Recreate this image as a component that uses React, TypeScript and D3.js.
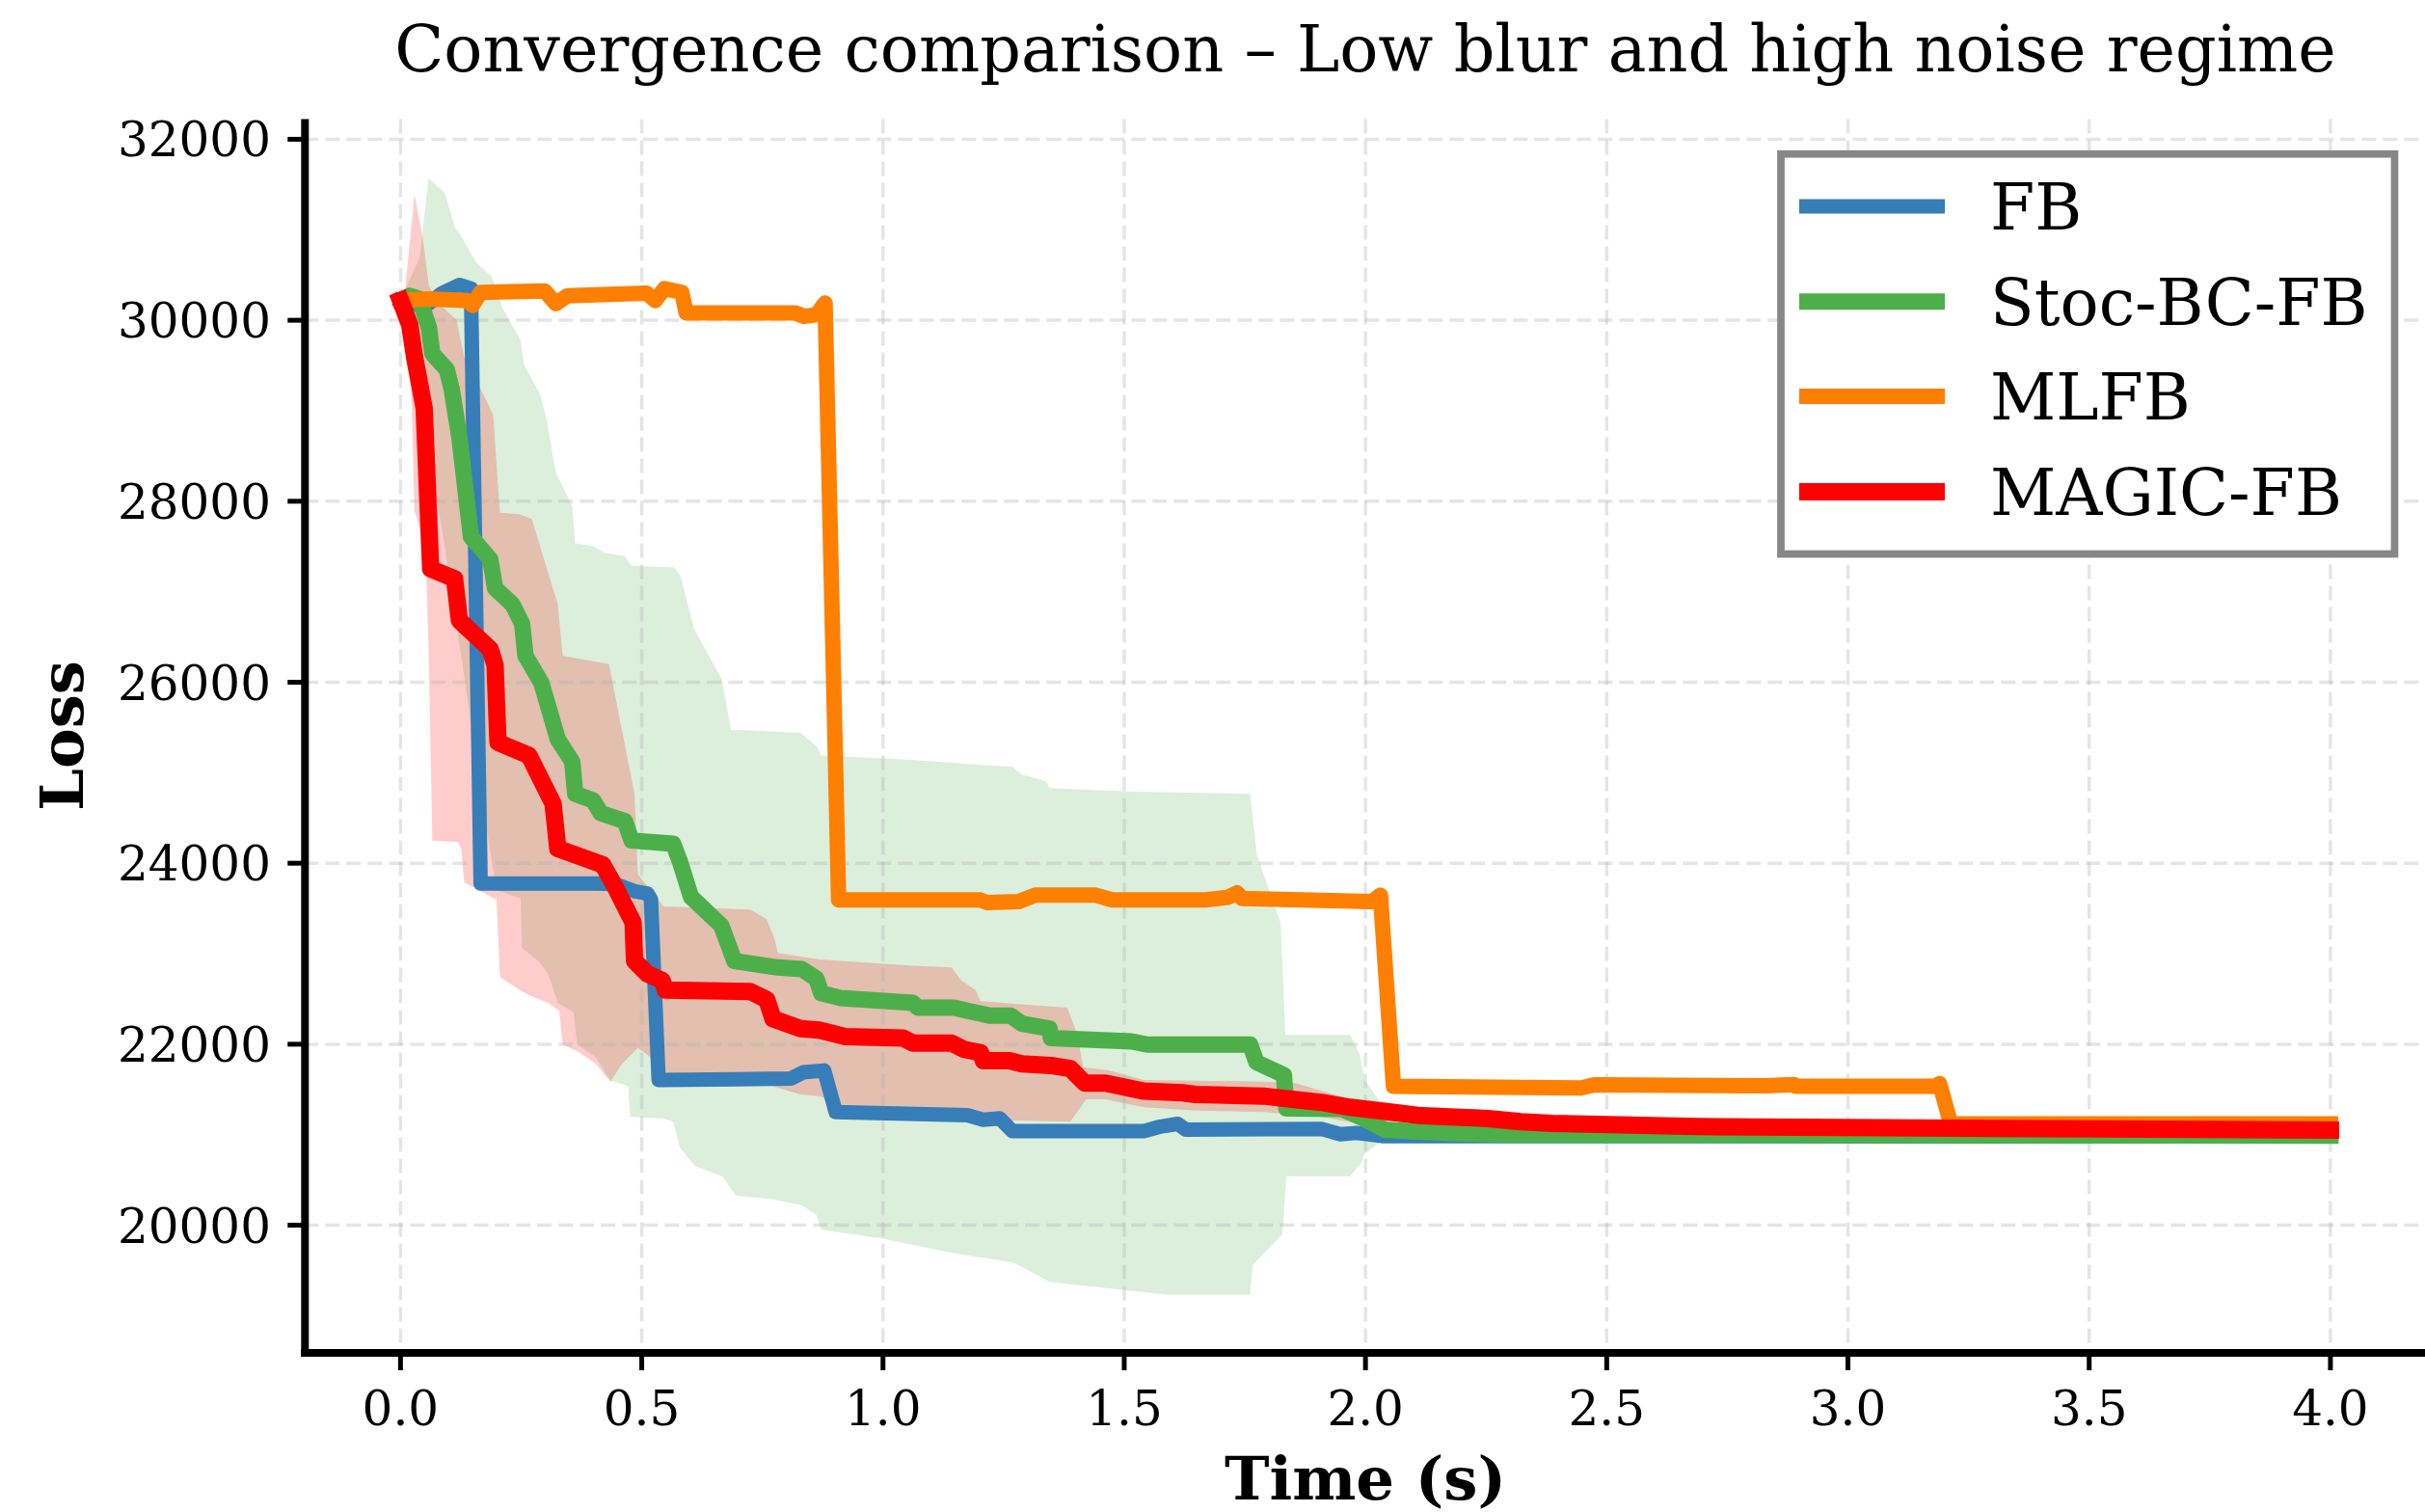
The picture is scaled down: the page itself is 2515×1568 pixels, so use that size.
import React, { useRef, useEffect } from 'react';
import * as d3 from 'd3';

type P = [number, number];

const TITLE = 'Convergence comparison – Low blur and high noise regime';
const X_LABEL = 'Time (s)';
const Y_LABEL = 'Loss';
const X_TICKS = [0, 0.5, 1, 1.5, 2, 2.5, 3, 3.5, 4];
const Y_TICKS = [20000, 22000, 24000, 26000, 28000, 30000, 32000];
const SERIES_NAMES = ['FB', 'Stoc-BC-FB', 'MLFB', 'MAGIC-FB'];
const SERIES_COLORS = ['#377eb8', '#4daf4a', '#ff7f00', '#ff0000'];
const SERIES_WIDTHS = [15, 17, 16, 18];

const fbLoss: P[] = [
  [0, 30220], [0.05, 30150], [0.086, 30300], [0.122, 30390], [0.146, 30350], [0.166, 23775],
  [0.405, 23775], [0.445, 23770], [0.485, 23690], [0.512, 23665], [0.519, 23600], [0.535, 21605],
  [0.809, 21620], [0.835, 21690], [0.878, 21710], [0.902, 21250], [1.175, 21215], [1.208, 21165],
  [1.242, 21180], [1.268, 21040], [1.541, 21040], [1.575, 21090], [1.611, 21120], [1.628, 21055],
  [1.908, 21065], [1.948, 21005], [1.981, 21020], [2.034, 20985], [4.0, 20980],
];

const stocLoss: P[] = [
  [0, 30220], [0.019, 30270], [0.039, 30236], [0.059, 29916], [0.066, 29631], [0.096, 29454],
  [0.106, 29241], [0.122, 28709], [0.146, 27607], [0.186, 27359], [0.196, 27039], [0.232, 26861],
  [0.252, 26648], [0.259, 26293], [0.292, 25992], [0.326, 25370], [0.356, 25121], [0.362, 24767],
  [0.399, 24695], [0.415, 24553], [0.465, 24464], [0.479, 24251], [0.565, 24216], [0.579, 24020],
  [0.602, 23629], [0.665, 23310], [0.692, 22919], [0.782, 22848], [0.832, 22830], [0.862, 22724],
  [0.872, 22564], [0.912, 22511], [1.062, 22457], [1.072, 22404], [1.148, 22404], [1.175, 22369],
  [1.222, 22315], [1.265, 22315], [1.288, 22226], [1.345, 22173], [1.348, 22067], [1.515, 22031],
  [1.548, 21996], [1.761, 21996], [1.774, 21800], [1.831, 21659], [1.836, 21290], [1.95, 21285],
  [1.975, 21230], [2.0, 21170], [2.041, 21054], [2.174, 21019], [2.281, 21001], [4.0, 20990],
];

const mlfbLoss: P[] = [
  [0, 30220], [0.059, 30236], [0.139, 30218], [0.149, 30164], [0.166, 30307], [0.299, 30324],
  [0.322, 30182], [0.346, 30271], [0.51, 30300], [0.528, 30217], [0.547, 30350], [0.583, 30307],
  [0.592, 30082], [0.818, 30082], [0.836, 30042], [0.862, 30062], [0.88, 30190], [0.908, 23594],
  [1.202, 23594], [1.215, 23566], [1.281, 23576], [1.315, 23647], [1.441, 23647], [1.475, 23594],
  [1.668, 23594], [1.714, 23622], [1.734, 23672], [1.744, 23611], [2.014, 23576], [2.031, 23647],
  [2.058, 21534], [2.447, 21516], [2.474, 21552], [2.829, 21540], [2.889, 21555], [2.892, 21535],
  [3.18, 21534], [3.19, 21565], [3.213, 21120], [4.0, 21120],
];

const magicLoss: P[] = [
  [0, 30220], [0.019, 29951], [0.029, 29596], [0.049, 29028], [0.0625, 27252], [0.112, 27145],
  [0.122, 26684], [0.186, 26364], [0.196, 26187], [0.202, 25334], [0.266, 25192], [0.316, 24660],
  [0.326, 24162], [0.419, 23984], [0.445, 23736], [0.482, 23345], [0.485, 22919], [0.512, 22777],
  [0.542, 22706], [0.549, 22599], [0.725, 22582], [0.759, 22493], [0.772, 22280], [0.829, 22173],
  [0.868, 22156], [0.922, 22085], [1.042, 22067], [1.062, 22013], [1.142, 22013], [1.168, 21943],
  [1.202, 21907], [1.208, 21818], [1.262, 21818], [1.288, 21783], [1.348, 21765], [1.388, 21730],
  [1.418, 21570], [1.461, 21570], [1.541, 21481], [1.621, 21463], [1.648, 21445], [1.788, 21427],
  [1.848, 21392], [1.908, 21357], [1.968, 21303], [2.081, 21232], [2.108, 21214], [2.254, 21179],
  [2.321, 21143], [2.387, 21125], [2.687, 21090], [3.3, 21070], [4.0, 21050],
];

const stocUpper: P[] = [
  [0, 30220], [0.04, 30700], [0.058, 31570], [0.092, 31408], [0.112, 31035], [0.132, 30875],
  [0.156, 30644], [0.189, 30484], [0.212, 30129], [0.249, 29774], [0.256, 29508], [0.289, 29188],
  [0.302, 28922], [0.322, 28318], [0.356, 27945], [0.362, 27537], [0.402, 27500], [0.422, 27430],
  [0.465, 27394], [0.479, 27287], [0.568, 27269], [0.581, 27167], [0.608, 26596], [0.639, 26293],
  [0.665, 26045], [0.685, 25476], [0.829, 25441], [0.865, 25281], [0.872, 25192], [1.068, 25139],
  [1.202, 25086], [1.268, 25068], [1.288, 24980], [1.338, 24908], [1.345, 24830], [1.501, 24794],
  [1.761, 24766], [1.775, 24091], [1.824, 23345], [1.834, 22103], [1.968, 22103], [1.988, 21890],
  [1.998, 21605], [2.034, 21339], [2.1, 21070], [2.3, 21030], [4.0, 21010],
];

const stocLower: P[] = [
  [0, 30220], [0.02, 30000], [0.04, 29500], [0.06, 28500], [0.093, 27465], [0.122, 26400],
  [0.126, 26293], [0.16, 25000], [0.199, 23700], [0.249, 23613], [0.252, 23062], [0.286, 22919],
  [0.306, 22777], [0.326, 22457], [0.359, 22351], [0.366, 21996], [0.405, 21854], [0.435, 21600],
  [0.472, 21534], [0.476, 21197], [0.545, 21179], [0.565, 21143], [0.579, 20859], [0.61, 20656],
  [0.667, 20540], [0.695, 20327], [0.766, 20290], [0.832, 20220], [0.862, 20113], [0.872, 19950],
  [1.003, 19849], [1.066, 19777], [1.157, 19682], [1.27, 19587], [1.346, 19373], [1.508, 19278],
  [1.592, 19230], [1.76, 19230], [1.767, 19563], [1.828, 19900], [1.836, 20540], [1.968, 20540],
  [1.991, 20682], [1.998, 20788], [2.034, 20930], [2.1, 20960], [2.3, 20975], [4.0, 20970],
];

const magicUpper: P[] = [
  [0, 30220], [0.009, 30307], [0.029, 31390], [0.046, 30910], [0.059, 30377], [0.083, 30164],
  [0.116, 30004], [0.132, 29596], [0.166, 29241], [0.192, 28957], [0.206, 27873], [0.246, 27856],
  [0.272, 27803], [0.326, 26861], [0.336, 26293], [0.432, 26200], [0.485, 24767], [0.492, 23878],
  [0.545, 23523], [0.725, 23488], [0.759, 23381], [0.775, 23168], [0.782, 23008], [0.868, 22937],
  [1.062, 22866], [1.142, 22848], [1.162, 22706], [1.192, 22599], [1.202, 22476], [1.382, 22404],
  [1.402, 22120], [1.415, 21747], [1.468, 21712], [1.541, 21605], [1.788, 21587], [1.855, 21570],
  [1.968, 21392], [2.08, 21260], [2.3, 21190], [4.0, 21080],
];

const magicLower: P[] = [
  [0, 30220], [0.022, 29241], [0.029, 27891], [0.052, 27500], [0.059, 26187], [0.066, 24251],
  [0.119, 24234], [0.126, 24162], [0.132, 23789], [0.199, 23594], [0.206, 22742], [0.252, 22582],
  [0.272, 22529], [0.306, 22457], [0.329, 22369], [0.336, 21996], [0.366, 21925], [0.405, 21783],
  [0.435, 21587], [0.459, 21783], [0.492, 21960], [0.519, 21854], [0.552, 21676], [0.599, 21676],
  [0.749, 21570], [0.829, 21445], [0.868, 21427], [0.915, 21321], [1.255, 21161], [1.388, 21143],
  [1.405, 21268], [1.421, 21392], [1.461, 21392], [1.541, 21303], [1.641, 21268], [1.788, 21250],
  [1.908, 21197], [1.981, 21125], [2.1, 21150], [2.3, 21120], [4.0, 21020],
];

const FONT = "'DejaVu Serif', serif";

export default function App() {
  const ref = useRef<SVGSVGElement>(null);

  useEffect(() => {
    const W = 2515, H = 1568;
    const svg = d3.select(ref.current);
    svg.selectAll('*').remove();

    const x = d3.scaleLinear().domain([-0.2, 4.2]).range([315.3, 2517.0]);
    const y = d3.scaleLinear().domain([18589, 32223]).range([1403, 123.5]);

    svg.append('rect').attr('x', 0).attr('y', 0).attr('width', W).attr('height', H).attr('fill', '#fff');

    const line = d3.line<P>().x(d => x(d[0])).y(d => y(d[1]));

    // bands
    const band = (upper: P[], lower: P[], color: string) => {
      const pts = upper.concat(lower.slice().reverse());
      svg.append('path')
        .attr('d', line(pts) + 'Z')
        .attr('fill', color)
        .attr('fill-opacity', 0.2)
        .attr('stroke', 'none');
    };
    band(stocUpper, stocLower, SERIES_COLORS[1]);
    band(magicUpper, magicLower, SERIES_COLORS[3]);

    // grid
    const grid = svg.append('g');
    X_TICKS.forEach(t => {
      grid.append('line')
        .attr('x1', x(t)).attr('x2', x(t))
        .attr('y1', y.range()[1]).attr('y2', y.range()[0])
        .attr('stroke', '#b0b0b0').attr('stroke-opacity', 0.33)
        .attr('stroke-width', 3.5).attr('stroke-dasharray', '15,7');
    });
    Y_TICKS.forEach(v => {
      grid.append('line')
        .attr('x1', x.range()[0]).attr('x2', x.range()[1])
        .attr('y1', y(v)).attr('y2', y(v))
        .attr('stroke', '#b0b0b0').attr('stroke-opacity', 0.33)
        .attr('stroke-width', 3.5).attr('stroke-dasharray', '15,7');
    });

    // lines
    const allSeries = [fbLoss, stocLoss, mlfbLoss, magicLoss];
    allSeries.forEach((s, i) => {
      svg.append('path')
        .attr('d', line(s))
        .attr('fill', 'none')
        .attr('stroke', SERIES_COLORS[i])
        .attr('stroke-width', SERIES_WIDTHS[i])
        .attr('stroke-linejoin', 'round')
        .attr('stroke-linecap', 'square');
    });

    // spines
    const left = x.range()[0] + 1;
    const bottom = y.range()[0];
    svg.append('line').attr('x1', left).attr('x2', left)
      .attr('y1', y.range()[1]).attr('y2', bottom + 4)
      .attr('stroke', '#000').attr('stroke-width', 8);
    svg.append('line').attr('x1', left - 4).attr('x2', W)
      .attr('y1', bottom).attr('y2', bottom)
      .attr('stroke', '#000').attr('stroke-width', 8);

    // x ticks
    X_TICKS.forEach(t => {
      svg.append('line').attr('x1', x(t)).attr('x2', x(t))
        .attr('y1', bottom).attr('y2', bottom + 18)
        .attr('stroke', '#000').attr('stroke-width', 5);
      svg.append('text').attr('x', x(t)).attr('y', 1478)
        .attr('text-anchor', 'middle')
        .attr('font-family', FONT).attr('font-size', 50)
        .text(d3.format('.1f')(t));
    });
    // y ticks
    Y_TICKS.forEach(v => {
      svg.append('line').attr('x1', left - 18).attr('x2', left)
        .attr('y1', y(v)).attr('y2', y(v))
        .attr('stroke', '#000').attr('stroke-width', 5);
      svg.append('text').attr('x', 281).attr('y', y(v) + 18)
        .attr('text-anchor', 'end')
        .attr('font-family', FONT).attr('font-size', 50)
        .text(String(v));
    });

    // title and labels
    svg.append('text').attr('x', 1416).attr('y', 74)
      .attr('text-anchor', 'middle')
      .attr('font-family', FONT).attr('font-size', 66.7)
      .text(TITLE);
    svg.append('text').attr('x', 1416).attr('y', 1555)
      .attr('text-anchor', 'middle')
      .attr('font-family', FONT).attr('font-size', 62.5).attr('font-weight', 'bold')
      .text(X_LABEL);
    svg.append('text')
      .attr('transform', `translate(86, 763) rotate(-90)`)
      .attr('text-anchor', 'middle')
      .attr('font-family', FONT).attr('font-size', 62.5).attr('font-weight', 'bold')
      .text(Y_LABEL);

    // legend
    const lg = svg.append('g');
    lg.append('rect').attr('x', 1847).attr('y', 159.7).attr('width', 636.5).attr('height', 414.8)
      .attr('fill', '#fff').attr('stroke', '#878787').attr('stroke-width', 7.7);
    const rowY = [214, 312.7, 411, 510];
    SERIES_NAMES.forEach((name, i) => {
      lg.append('line').attr('x1', 1866).attr('x2', 2017)
        .attr('y1', rowY[i]).attr('y2', rowY[i])
        .attr('stroke', SERIES_COLORS[i]).attr('stroke-width', SERIES_WIDTHS[i]);
      lg.append('text').attr('x', 2064).attr('y', rowY[i] + 24)
        .attr('font-family', FONT).attr('font-size', 66.7)
        .text(name);
    });
  }, []);

  return (
    <svg
      ref={ref}
      width={2515}
      height={1568}
      style={{ position: 'absolute', left: 0, top: 0, display: 'block' }}
    />
  );
}
